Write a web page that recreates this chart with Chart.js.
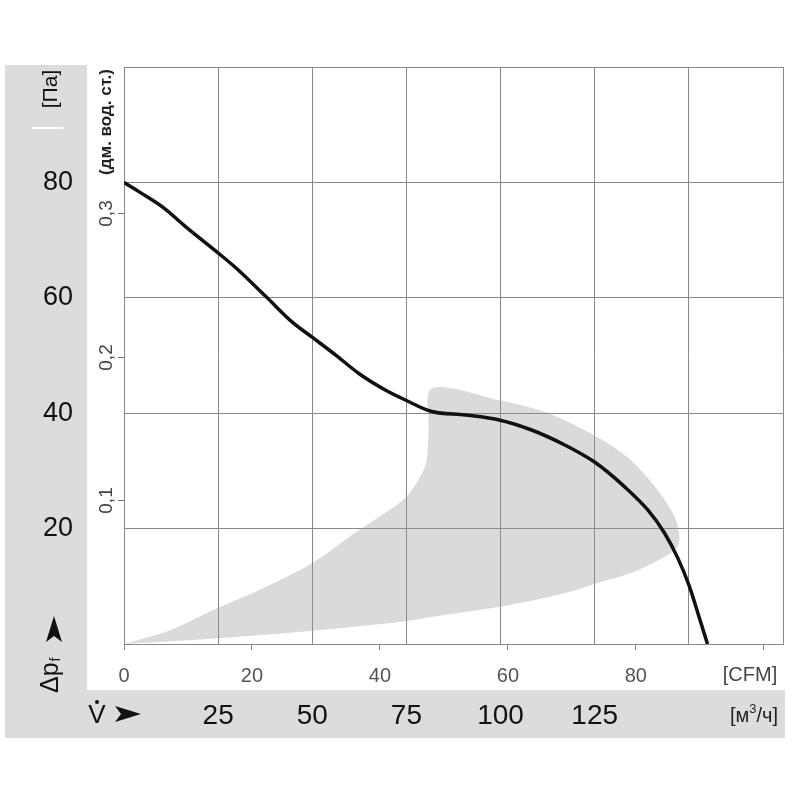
<!doctype html>
<html>
<head>
	<title>Fan curve</title>
	<script src="https://cdn.jsdelivr.net/npm/chart.js@4"></script>
	<style>
	body { margin: 0; background: #fff; }
	</style>
</head>
<body>
	<canvas id="canvas" width="800" height="800"></canvas>
	<script>
		// characteristic curve, CFM vs Pa
		const curveCfm = [0, 2.5, 6.1, 9.8, 14.6, 17.6, 22.3, 26.3, 29.4, 33.2, 36.7, 40.9, 44, 48.1, 53.4, 58.8, 63.7, 68.9, 73.6, 78.3, 81.9, 84.5, 86.6, 88.3, 89.8, 91.2];
		const curvePa = [80, 78.3, 75.7, 72.2, 67.9, 65.1, 60.1, 55.8, 53.2, 50, 46.9, 44, 42.3, 40.3, 39.7, 38.8, 37.1, 34.5, 31.5, 27.2, 23.2, 19.2, 14.8, 10.2, 5, 0];
		// grey operating band outline
		const bandCfm = [0, 7.2, 14.6, 21.2, 29.4, 36.7, 43, 45, 47.2, 47.6, 48.1, 58.5, 66.3, 74.1, 79.2, 83.4, 86.1, 86.8, 86.5, 84.5, 79.2, 74.1, 68.9, 58.5, 48.1, 43, 29.4, 14.6, 0];
		const bandPa = [0, 2.4, 6.2, 9.4, 14, 19.7, 24.4, 26.7, 31.3, 37.1, 44.3, 42.3, 40, 35.8, 31.9, 26.7, 22, 18.5, 16.8, 15.1, 12.3, 10.6, 8.8, 6.4, 4.7, 3.8, 2.3, 1, 0];
		const paLabels = [20, 40, 60, 80];
		const cfmLabels = [0, 20, 40, 60, 80];
		const m3hLabels = [25, 50, 75, 100, 125];
		const inwgLabels = [0.1, 0.2, 0.3];

		const M3H_PER_CFM = 1.69901;
		const PA_PER_INWG = 249.089;
		const FONT = "'Liberation Sans', Arial, sans-serif";

		function arrow(c, tip, dir) {
			// dir: 'up' or 'right'
			c.beginPath();
			if (dir === 'up') {
				c.moveTo(tip[0], tip[1]);
				c.lineTo(tip[0] + 8, tip[1] + 26);
				c.lineTo(tip[0], tip[1] + 20);
				c.lineTo(tip[0] - 8, tip[1] + 26);
			} else {
				c.moveTo(tip[0], tip[1]);
				c.lineTo(tip[0] - 26, tip[1] - 8);
				c.lineTo(tip[0] - 20, tip[1]);
				c.lineTo(tip[0] - 26, tip[1] + 8);
			}
			c.closePath();
			c.fill();
		}

		const decor = {
			id: 'decor',
			beforeDraw(chart) {
				const c = chart.ctx;
				c.save();
				c.fillStyle = '#dcdcdd';
				c.fillRect(5, 65, 82, 673);
				c.fillRect(5, 690, 780, 48);
				c.fillStyle = '#fff';
				c.fillRect(32, 127, 31, 2);
				c.restore();
			},
			afterDraw(chart) {
				const c = chart.ctx;
				const y = chart.scales.y;
				c.save();
				c.fillStyle = '#111';
				// [Па]
				c.save();
				c.translate(51, 89);
				c.rotate(-Math.PI / 2);
				c.font = '21px ' + FONT;
				c.textAlign = 'center';
				c.textBaseline = 'middle';
				c.fillText('[Па]', 0, 0);
				c.restore();
				// Δpf
				c.save();
				c.translate(51, 693);
				c.rotate(-Math.PI / 2);
				c.font = '25px ' + FONT;
				c.textAlign = 'left';
				c.textBaseline = 'middle';
				c.fillText('Δp', 0, 0);
				const w = c.measureText('Δp').width;
				c.font = '14px ' + FONT;
				c.fillText('f', w + 1, 5);
				c.restore();
				arrow(c, [54, 616], 'up');
				// V dot arrow
				c.font = '26px ' + FONT;
				c.textAlign = 'center';
				c.textBaseline = 'middle';
				c.fillText('V', 97, 716);
				c.beginPath();
				c.arc(97, 702, 2, 0, Math.PI * 2);
				c.fill();
				arrow(c, [141, 714], 'right');
				// [м3/ч]
				c.font = '20px ' + FONT;
				c.textAlign = 'left';
				c.fillStyle = '#222';
				let x = 730;
				c.fillText('[м', x, 716);
				x += c.measureText('[м').width;
				c.font = '13px ' + FONT;
				c.fillText('3', x, 709);
				x += c.measureText('3').width;
				c.font = '20px ' + FONT;
				c.fillText('/ч]', x, 716);
				// [CFM]
				c.fillStyle = '#444';
				c.font = '20px ' + FONT;
				c.textAlign = 'center';
				c.fillText('[CFM]', 750, 675);
				// in. wg secondary axis
				c.strokeStyle = '#777';
				c.lineWidth = 1;
				c.font = '19px ' + FONT;
				c.fillStyle = '#444';
				inwgLabels.forEach(v => {
					const py = Math.round(y.getPixelForValue(v * PA_PER_INWG)) + 0.5;
					c.beginPath();
					c.moveTo(118, py);
					c.lineTo(124, py);
					c.stroke();
					c.save();
					c.translate(107, py);
					c.rotate(-Math.PI / 2);
					c.textAlign = 'center';
					c.textBaseline = 'middle';
					c.fillText(String(v).replace('.', ','), 0, 0);
					c.restore();
				});
				c.save();
				c.translate(106, 122);
				c.rotate(-Math.PI / 2);
				c.font = 'bold 17px ' + FONT;
				c.fillStyle = '#222';
				c.textAlign = 'center';
				c.textBaseline = 'middle';
				c.fillText('(дм. вод. ст.)', 0, 0);
				c.restore();
				c.restore();
			}
		};

		const ctx = document.getElementById('canvas').getContext('2d');
		window.myChart = new Chart(ctx, {
			type: 'scatter',
			data: {
				datasets: [{
					label: 'curve',
					data: curveCfm.map((v, i) => ({x: v, y: curvePa[i]})),
					borderColor: '#111',
					borderWidth: 3.5,
					pointRadius: 0,
					showLine: true,
					cubicInterpolationMode: 'monotone',
					fill: false
				}, {
					label: 'band',
					data: bandCfm.map((v, i) => ({x: v, y: bandPa[i]})),
					borderColor: 'rgba(0,0,0,0)',
					backgroundColor: 'rgba(150,150,155,0.35)',
					borderWidth: 0,
					pointRadius: 0,
					showLine: true,
					tension: 0.3,
					fill: 'shape'
				}]
			},
			plugins: [decor],
			options: {
				responsive: false,
				animation: false,
				layout: {padding: {left: 0, top: 67, right: 17, bottom: 0}},
				plugins: {
					legend: {display: false},
					tooltip: {enabled: false}
				},
				scales: {
					x: {
						type: 'linear',
						position: 'bottom',
						min: 0,
						max: 175 / M3H_PER_CFM,
						weight: 0,
						afterBuildTicks: s => { s.ticks = [0, 20, 40, 60, 80, 100].map(v => ({value: v})); },
						afterFit: s => { s.height = 46; },
						grid: {drawOnChartArea: false, tickLength: 6, color: '#888'},
						border: {color: '#888'},
						ticks: {
							autoSkip: false,
							maxRotation: 0,
							padding: 14,
							color: '#555',
							font: {family: FONT, size: 20},
							callback: v => cfmLabels.includes(v) ? String(v) : ''
						}
					},
					xm: {
						type: 'linear',
						position: 'bottom',
						min: 0,
						max: 175,
						weight: 1,
						afterBuildTicks: s => { s.ticks = [0, 25, 50, 75, 100, 125, 150, 175].map(v => ({value: v})); },
						afterFit: s => { s.height = 110; },
						grid: {drawTicks: false, color: '#888'},
						border: {display: false},
						ticks: {
							autoSkip: false,
							maxRotation: 0,
							padding: 9,
							color: '#111',
							font: {family: FONT, size: 28},
							callback: v => m3hLabels.includes(v) ? String(v) : ''
						}
					},
					y: {
						type: 'linear',
						min: 0,
						max: 100,
						afterBuildTicks: s => { s.ticks = [0, 20, 40, 60, 80, 100].map(v => ({value: v})); },
						afterFit: s => { s.width = 124; },
						grid: {drawTicks: false, color: '#888'},
						border: {color: '#888'},
						ticks: {
							padding: 51,
							color: '#111',
							font: {family: FONT, size: 27},
							callback: v => paLabels.includes(v) ? String(v) : ''
						}
					}
				}
			}
		});
	</script>
</body>
</html>
